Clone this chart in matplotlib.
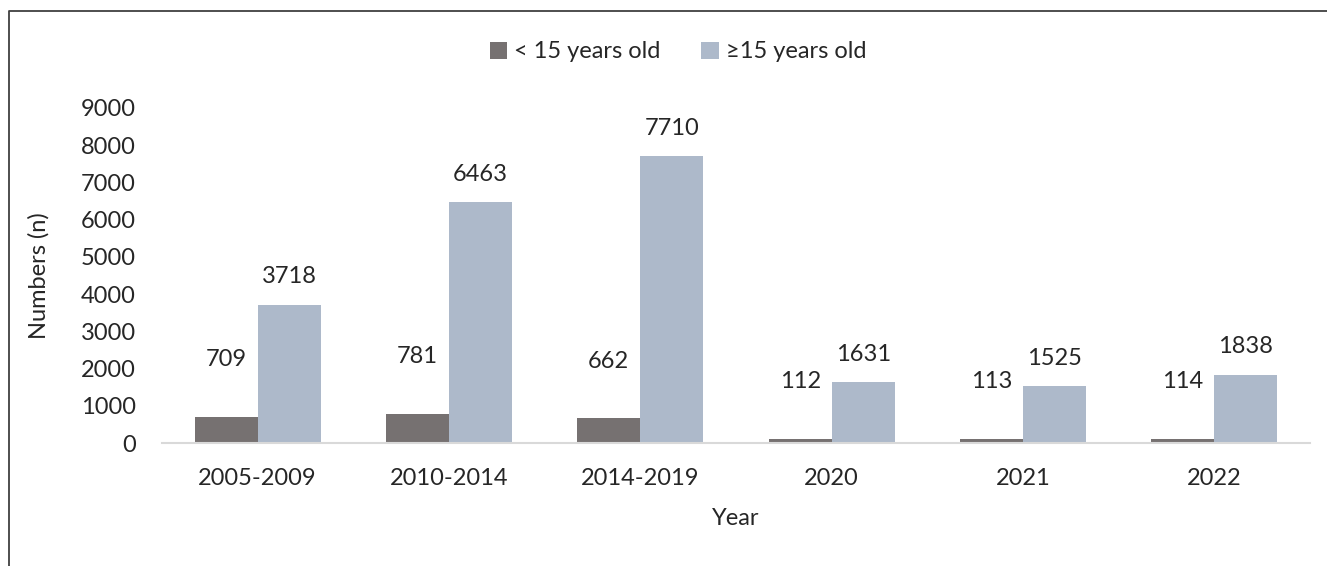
import matplotlib
matplotlib.use("Agg")
import matplotlib.pyplot as plt
import numpy as np
from matplotlib.lines import Line2D

categories = ["2005-2009", "2010-2014", "2014-2019", "2020", "2021", "2022"]
under15 = [709, 781, 662, 112, 113, 114]
over15 = [3718, 6463, 7710, 1631, 1525, 1838]
series_names = ["< 15 years old", "\u226515 years old"]
yticks = [0, 1000, 2000, 3000, 4000, 5000, 6000, 7000, 8000, 9000]

plt.rcParams['font.family'] = ['Lato', 'DejaVu Sans']
plt.rcParams['font.weight'] = 'normal'
dark = "#767171"
light = "#ADB9CA"
txt = "#262626"
fs = 17

W, H = 1327, 566
fig = plt.figure(figsize=(W/100, H/100), dpi=100)
ax = fig.add_axes([162/W, 1-443/H, (1310-162)/W, (443-108)/H])

x = np.arange(len(categories))
bw = 0.33
b1 = ax.bar(x - bw/2, under15, bw, color=dark, label=series_names[0])
b2 = ax.bar(x + bw/2, over15, bw, color=light, label=series_names[1])

for rect, v in zip(b1, under15):
    ax.annotate(str(v), (rect.get_x() + rect.get_width()/2, v), xytext=(0, 41),
                textcoords="offset points", ha="center", va="center", fontsize=fs, color=txt)
for rect, v in zip(b2, over15):
    ax.annotate(str(v), (rect.get_x() + rect.get_width()/2, v), xytext=(0, 20),
                textcoords="offset points", ha="center", va="center", fontsize=fs, color=txt)

ax.set_xlim(-0.5, len(categories) - 0.5)
ax.set_ylim(0, 9000)
ax.set_yticks(yticks)
ax.set_yticklabels([str(t) for t in yticks], fontsize=fs, color=txt)
ax.set_xticks(x)
ax.set_xticklabels(categories, fontsize=fs, color=txt)
ax.tick_params(axis='both', length=0)
ax.tick_params(axis='y', pad=19)
ax.tick_params(axis='x', pad=18)
for s in ["top", "right", "left"]:
    ax.spines[s].set_visible(False)
ax.spines["bottom"].set_color("#D9D9D9")
ax.spines["bottom"].set_linewidth(1.5)

ax.set_ylabel("Numbers (n)", fontsize=fs, color=txt, labelpad=22)
ax.set_xlabel("Year", fontsize=fs, color=txt, labelpad=14)

leg = fig.legend(handles=[b1, b2], labels=series_names, loc="center", bbox_to_anchor=(678/W, 1-52/H),
                 ncol=2, frameon=False, fontsize=fs, handlelength=0.75, handleheight=0.75,
                 handletextpad=0.3, columnspacing=1.7)
for t in leg.get_texts():
    t.set_color(txt)

fig.add_artist(Line2D([9/W, 9/W, 1.0], [0, 1-11/H, 1-11/H], transform=fig.transFigure,
                      color="#404040", linewidth=1.3))

fig.savefig("out.png", dpi=100)
